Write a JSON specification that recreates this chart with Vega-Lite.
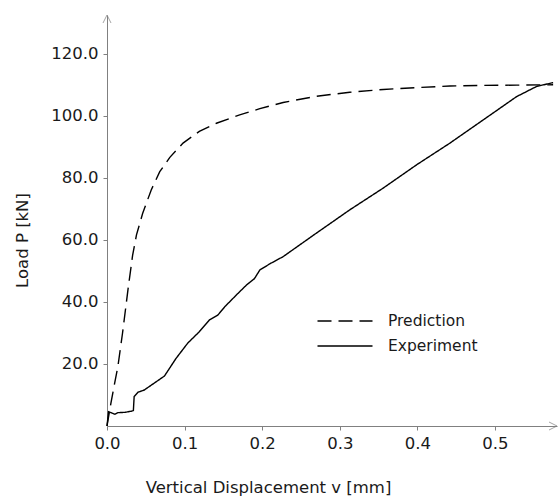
{
  "$schema": "https://vega.github.io/schema/vega-lite/v6.json",
  "width": 450,
  "height": 411,
  "autosize": {"type": "none"},
  "padding": {"left": 107, "top": 15, "right": 1, "bottom": 71},
  "background": "white",
  "config": {
    "view": {"stroke": null},
    "font": "DejaVu Sans",
    "axis": {"grid": false, "domainColor": "#808080", "tickColor": "#808080", "labelColor": "#1a1a1a", "titleColor": "#1a1a1a", "labelFontSize": 16.5, "titleFontSize": 16.5, "titleFontWeight": "normal", "tickSize": 4, "labelPadding": 5, "labelFlush": false, "labelOverlap": false}
  },
  "layer": [
    {
      "data": {"values": [
        {"x": 0, "y": 0, "series": "Prediction"},
        {"x": 0.005, "y": 7.3, "series": "Prediction"},
        {"x": 0.010, "y": 14.0, "series": "Prediction"},
        {"x": 0.014, "y": 19.1, "series": "Prediction"},
        {"x": 0.020, "y": 29.9, "series": "Prediction"},
        {"x": 0.027, "y": 43.9, "series": "Prediction"},
        {"x": 0.033, "y": 55.0, "series": "Prediction"},
        {"x": 0.038, "y": 61.6, "series": "Prediction"},
        {"x": 0.046, "y": 68.6, "series": "Prediction"},
        {"x": 0.057, "y": 76.1, "series": "Prediction"},
        {"x": 0.068, "y": 82.0, "series": "Prediction"},
        {"x": 0.081, "y": 86.6, "series": "Prediction"},
        {"x": 0.098, "y": 91.2, "series": "Prediction"},
        {"x": 0.119, "y": 95.0, "series": "Prediction"},
        {"x": 0.141, "y": 97.6, "series": "Prediction"},
        {"x": 0.171, "y": 100.3, "series": "Prediction"},
        {"x": 0.197, "y": 102.3, "series": "Prediction"},
        {"x": 0.227, "y": 104.3, "series": "Prediction"},
        {"x": 0.270, "y": 106.3, "series": "Prediction"},
        {"x": 0.313, "y": 107.6, "series": "Prediction"},
        {"x": 0.356, "y": 108.5, "series": "Prediction"},
        {"x": 0.399, "y": 109.1, "series": "Prediction"},
        {"x": 0.442, "y": 109.6, "series": "Prediction"},
        {"x": 0.485, "y": 109.8, "series": "Prediction"},
        {"x": 0.528, "y": 109.9, "series": "Prediction"},
        {"x": 0.575, "y": 110.0, "series": "Prediction"},
        {"x": 0, "y": 0, "series": "Experiment"},
        {"x": 0.002, "y": 4.6, "series": "Experiment"},
        {"x": 0.006, "y": 4.2, "series": "Experiment"},
        {"x": 0.010, "y": 3.8, "series": "Experiment"},
        {"x": 0.014, "y": 4.3, "series": "Experiment"},
        {"x": 0.023, "y": 4.4, "series": "Experiment"},
        {"x": 0.032, "y": 4.8, "series": "Experiment"},
        {"x": 0.034, "y": 5.0, "series": "Experiment"},
        {"x": 0.035, "y": 9.5, "series": "Experiment"},
        {"x": 0.040, "y": 10.9, "series": "Experiment"},
        {"x": 0.048, "y": 11.6, "series": "Experiment"},
        {"x": 0.059, "y": 13.5, "series": "Experiment"},
        {"x": 0.074, "y": 16.1, "series": "Experiment"},
        {"x": 0.089, "y": 21.8, "series": "Experiment"},
        {"x": 0.104, "y": 26.7, "series": "Experiment"},
        {"x": 0.119, "y": 30.4, "series": "Experiment"},
        {"x": 0.132, "y": 34.2, "series": "Experiment"},
        {"x": 0.143, "y": 35.8, "series": "Experiment"},
        {"x": 0.152, "y": 38.5, "series": "Experiment"},
        {"x": 0.167, "y": 42.3, "series": "Experiment"},
        {"x": 0.180, "y": 45.5, "series": "Experiment"},
        {"x": 0.190, "y": 47.5, "series": "Experiment"},
        {"x": 0.197, "y": 50.3, "series": "Experiment"},
        {"x": 0.210, "y": 52.3, "series": "Experiment"},
        {"x": 0.227, "y": 54.6, "series": "Experiment"},
        {"x": 0.270, "y": 62.2, "series": "Experiment"},
        {"x": 0.313, "y": 69.7, "series": "Experiment"},
        {"x": 0.356, "y": 76.7, "series": "Experiment"},
        {"x": 0.399, "y": 84.2, "series": "Experiment"},
        {"x": 0.442, "y": 91.2, "series": "Experiment"},
        {"x": 0.485, "y": 98.7, "series": "Experiment"},
        {"x": 0.528, "y": 106.2, "series": "Experiment"},
        {"x": 0.554, "y": 109.5, "series": "Experiment"},
        {"x": 0.575, "y": 110.7, "series": "Experiment"}
      ]},
      "mark": {"type": "line", "color": "black", "strokeWidth": 1.4, "clip": false},
      "encoding": {
        "x": {"field": "x", "type": "quantitative", "scale": {"domain": [0, 0.58], "nice": false, "zero": true},
              "axis": {"values": [0, 0.1, 0.2, 0.3, 0.4, 0.5], "format": ".1f", "title": "Vertical Displacement v [mm]", "titleX": 161, "titleY": 66, "titleBaseline": "alphabetic", "titleAlign": "center"}},
        "y": {"field": "y", "type": "quantitative", "scale": {"domain": [0, 132.5], "nice": false},
              "axis": {"values": [20, 40, 60, 80, 100, 120], "format": ".1f", "title": "Load P [kN]", "titleX": -85, "titleY": 225, "titleAngle": -90, "titleBaseline": "middle", "titleAlign": "center"}},
        "strokeDash": {"field": "series", "type": "nominal",
          "scale": {"domain": ["Prediction", "Experiment"], "range": [[14, 7], [1, 0]]},
          "legend": {"title": null, "orient": "none", "legendX": 227, "legendY": 295, "symbolType": "M-2.75,0H2.75", "symbolSize": 400, "symbolStrokeWidth": 1.4, "symbolStrokeColor": "black", "labelFontSize": 15.5, "labelColor": "#1a1a1a", "labelOffset": 32, "rowPadding": 5}}
      }
    },
    {
      "data": {"values": [{"x": 0.58, "y": 0}]},
      "mark": {"type": "point", "shape": "M-2,-1L0,0L-2,1", "size": 64, "filled": false, "stroke": "#808080", "strokeWidth": 1, "clip": false},
      "encoding": {"x": {"field": "x", "type": "quantitative"}, "y": {"field": "y", "type": "quantitative"}}
    },
    {
      "data": {"values": [{"x": 0, "y": 132.5}]},
      "mark": {"type": "point", "shape": "M-1,2L0,0L1,2", "size": 64, "filled": false, "stroke": "#808080", "strokeWidth": 1, "clip": false},
      "encoding": {"x": {"field": "x", "type": "quantitative"}, "y": {"field": "y", "type": "quantitative"}}
    }
  ]
}
